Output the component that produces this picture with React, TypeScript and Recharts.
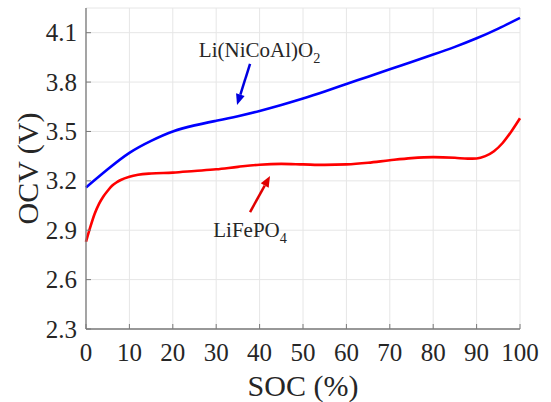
import React from 'react';
import { LineChart, Line, XAxis, YAxis, CartesianGrid, ReferenceLine, ReferenceDot } from 'recharts';

const socTicks = [0, 10, 20, 30, 40, 50, 60, 70, 80, 90, 100];
const ocvTicks = [2.3, 2.6, 2.9, 3.2, 3.5, 3.8, 4.1];

const ncaSoc = [0, 5, 10, 15, 20, 25, 30, 35, 40, 45, 50, 55, 60, 65, 70, 75, 80, 85, 90, 95, 100];
const ncaOcv = [3.16, 3.27, 3.37, 3.443, 3.5, 3.537, 3.565, 3.593, 3.625, 3.661, 3.7, 3.743, 3.788, 3.833, 3.878, 3.922, 3.967, 4.014, 4.066, 4.125, 4.19];

const lfpSoc = [0, 1, 2, 3, 4, 5, 6, 7, 8, 10, 12, 15, 20, 25, 30, 35, 40, 45, 50, 55, 60, 65, 70, 75, 80, 85, 88, 90, 92, 94, 96, 98, 100];
const lfpOcv = [2.83, 2.92, 3.0, 3.06, 3.105, 3.14, 3.17, 3.19, 3.205, 3.225, 3.237, 3.245, 3.25, 3.26, 3.27, 3.285, 3.298, 3.303, 3.3, 3.297, 3.3, 3.31, 3.325, 3.338, 3.344, 3.34, 3.335, 3.336, 3.35, 3.38, 3.43, 3.5, 3.58];

const ncaLabel = { soc: 40, ocv: 3.95, text: 'Li(NiCoAl)O', sub: '2' };
const lfpLabel = { soc: 37.8, ocv: 2.86, text: 'LiFePO', sub: '4' };
const ncaArrow = [{ x: 37.8, y: 3.91 }, { x: 34.8, y: 3.66 }];
const lfpArrow = [{ x: 37.8, y: 3.01 }, { x: 42.4, y: 3.23 }];

const ncaData = ncaSoc.map((s, i) => ({ soc: s, ocv: ncaOcv[i] }));
const lfpData = lfpSoc.map((s, i) => ({ soc: s, ocv: lfpOcv[i] }));

const FONT = '"Liberation Serif", "Times New Roman", serif';
const AX = '#7a7a7a';
const TXT = '#262626';
const BLUE = '#0000ff';
const RED = '#ff0000';

const BottomTick = (p: any) => (
  <g>
    <line x1={p.x} y1={p.y} x2={p.x} y2={p.y - 5} stroke={AX} strokeWidth={1} />
    <text x={p.x} y={p.y + 32} textAnchor="middle" fontSize={25} fontFamily={FONT} fill={TXT}>
      {p.payload.value}
    </text>
  </g>
);
const LeftTick = (p: any) => (
  <g>
    <line x1={p.x} y1={p.y} x2={p.x + 5} y2={p.y} stroke={AX} strokeWidth={1} />
    <text x={p.x - 9} y={p.y + 8.5} textAnchor="end" fontSize={25} fontFamily={FONT} fill={TXT}>
      {Number(p.payload.value).toFixed(1)}
    </text>
  </g>
);
const TopTick = (p: any) => (
  <line x1={p.x} y1={p.y} x2={p.x} y2={p.y + 5} stroke={AX} strokeWidth={1} />
);
const RightTick = (p: any) => (
  <line x1={p.x} y1={p.y} x2={p.x - 5} y2={p.y} stroke={AX} strokeWidth={1} />
);

const makeArrow = (color: string) => (p: any) => {
  const { x1, y1, x2, y2 } = p;
  const dx = x2 - x1;
  const dy = y2 - y1;
  const len = Math.sqrt(dx * dx + dy * dy) || 1;
  const ux = dx / len;
  const uy = dy / len;
  const hl = 11;
  const hw = 4.5;
  const bx = x2 - ux * hl;
  const by = y2 - uy * hl;
  const pts = `${x2},${y2} ${bx - uy * hw},${by + ux * hw} ${bx + uy * hw},${by - ux * hw}`;
  return (
    <g>
      <line x1={x1} y1={y1} x2={bx} y2={by} stroke={color} strokeWidth={2.5} />
      <polygon points={pts} fill={color} />
    </g>
  );
};

const makeText = (text: string, sub: string, size: number) => (p: any) => (
  <text x={p.cx} y={p.cy} textAnchor="middle" fontSize={size} fontFamily={FONT} fill={TXT}>
    {text}
    <tspan fontSize={size * 0.68} dy={6}>{sub}</tspan>
  </text>
);

export default function App() {
  return (
    <div style={{ position: 'absolute', left: 0, top: 0, width: 551, height: 402, background: '#fff' }}>
      <LineChart width={551} height={402} margin={{ top: 8, right: 31, bottom: 0, left: 0 }}>
        <CartesianGrid stroke="#e6e6e6" strokeWidth={1} />
        <XAxis
          dataKey="soc"
          type="number"
          domain={[0, 100]}
          ticks={socTicks}
          height={73}
          tickSize={0}
          tickMargin={0}
          tickLine={false}
          axisLine={{ stroke: AX, strokeWidth: 1.3 }}
          tick={<BottomTick />}
          label={(props: any) => {
            const vb = props.viewBox;
            return (
              <text x={vb.x + vb.width / 2} y={vb.y + 67} textAnchor="middle" fontSize={30} fontFamily={FONT} fill={TXT}>
                SOC (%)
              </text>
            );
          }}
        />
        <XAxis
          xAxisId="top"
          orientation="top"
          dataKey="soc"
          type="number"
          domain={[0, 100]}
          ticks={socTicks}
          height={0}
          tickSize={0}
          tickMargin={0}
          tickLine={false}
          axisLine={{ stroke: AX, strokeWidth: 1.3 }}
          tick={<TopTick />}
        />
        <YAxis
          type="number"
          domain={[2.3, 4.25]}
          ticks={ocvTicks}
          allowDataOverflow
          width={86}
          tickSize={0}
          tickMargin={0}
          tickLine={false}
          axisLine={{ stroke: AX, strokeWidth: 1.3 }}
          tick={<LeftTick />}
          label={(props: any) => {
            const vb = props.viewBox;
            const cx = vb.x + 38;
            const cy = vb.y + vb.height / 2;
            return (
              <text x={cx} y={cy} transform={`rotate(-90 ${cx} ${cy})`} textAnchor="middle" fontSize={30} fontFamily={FONT} fill={TXT}>
                OCV (V)
              </text>
            );
          }}
        />
        <YAxis
          yAxisId="right"
          orientation="right"
          type="number"
          domain={[2.3, 4.25]}
          ticks={ocvTicks}
          allowDataOverflow
          width={0}
          tickSize={0}
          tickMargin={0}
          tickLine={false}
          axisLine={{ stroke: AX, strokeWidth: 1.3 }}
          tick={<RightTick />}
        />
        <Line data={ncaData} dataKey="ocv" type="natural" stroke={BLUE} strokeWidth={2.6} dot={false} isAnimationActive={false} />
        <Line data={lfpData} dataKey="ocv" type="monotone" stroke={RED} strokeWidth={2.6} dot={false} isAnimationActive={false} />
        <ReferenceLine segment={ncaArrow} shape={makeArrow('#0000e0')} ifOverflow="visible" />
        <ReferenceLine segment={lfpArrow} shape={makeArrow('#e00000')} ifOverflow="visible" />
        <ReferenceDot x={ncaLabel.soc} y={ncaLabel.ocv} r={0} ifOverflow="visible" shape={makeText(ncaLabel.text, ncaLabel.sub, 21)} />
        <ReferenceDot x={lfpLabel.soc} y={lfpLabel.ocv} r={0} ifOverflow="visible" shape={makeText(lfpLabel.text, lfpLabel.sub, 21)} />
      </LineChart>
    </div>
  );
}
